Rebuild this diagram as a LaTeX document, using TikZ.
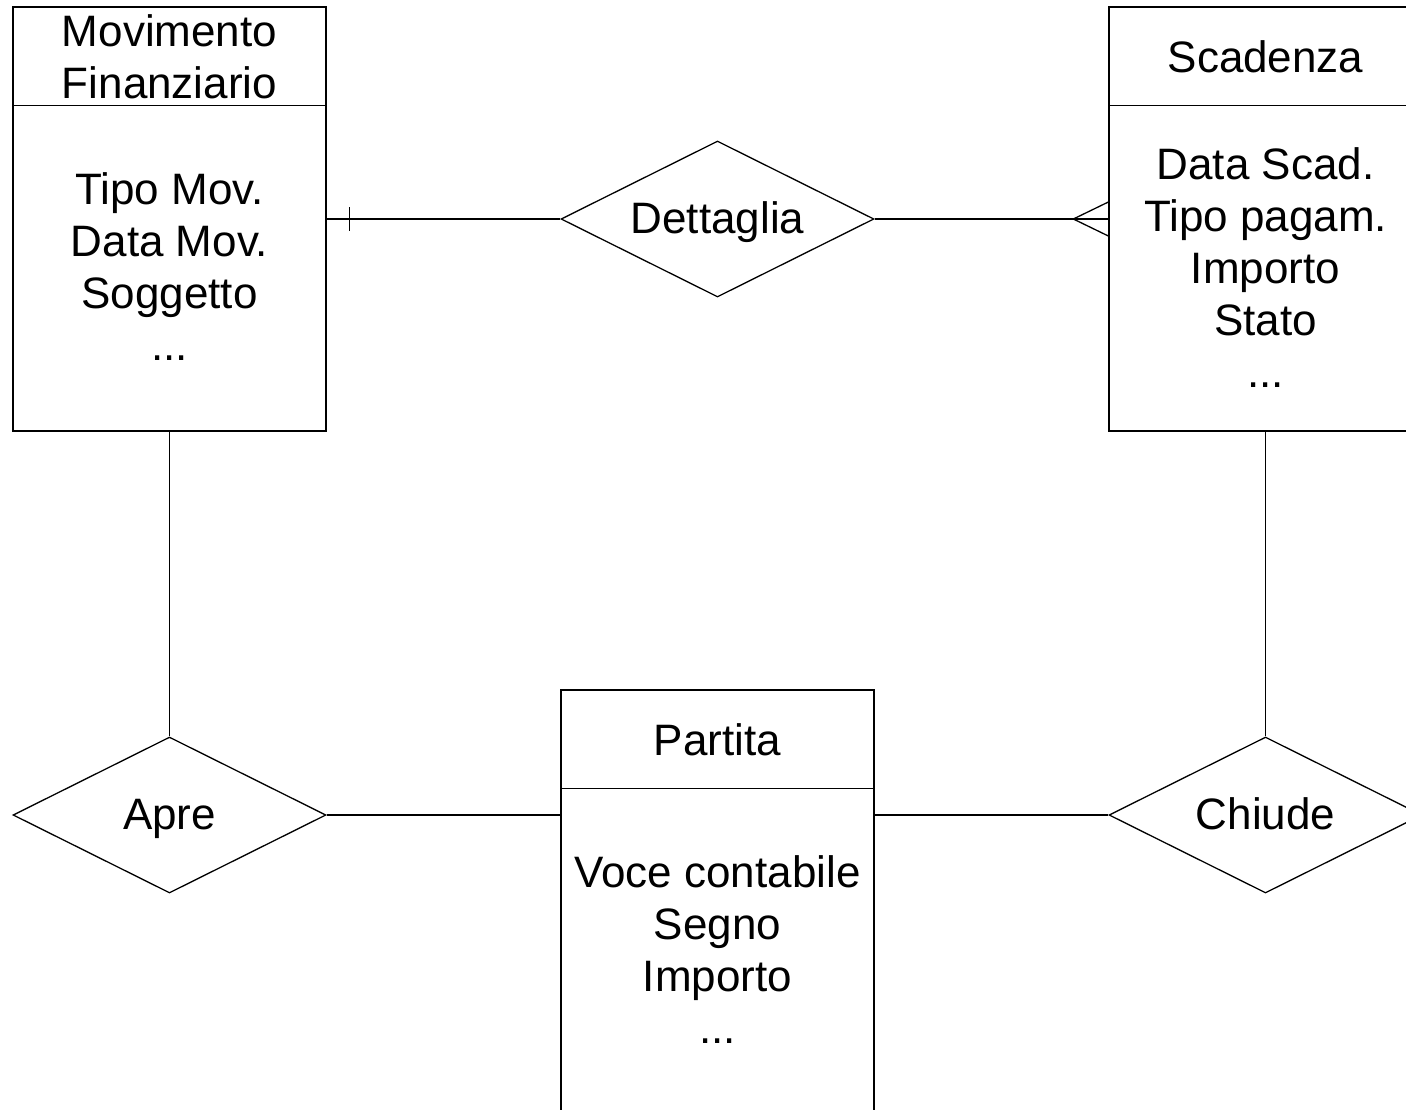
\documentclass[tikz,border=0pt]{standalone}
\usepackage{fontspec}
\setmainfont{Liberation Sans}
\usetikzlibrary{shapes.geometric}
\begin{document}
\begin{tikzpicture}[x=1pt,y=-1pt,
  line width=1.3pt,
  entity/.style={draw, rectangle, minimum width=313pt, minimum height=424pt, inner sep=0pt},
  rel/.style={draw, diamond, minimum width=313pt, minimum height=156pt, inner sep=0pt},
  % multi-line labels are placed by the baseline of their last line
  txt/.style={anchor=base, align=center, inner sep=0pt,
    font=\fontsize{44}{52}\selectfont}]
\useasboundingbox (0,0) rectangle (1406,1109);
\clip (0,0) rectangle (1406,1109);

% entities
\node[entity] (mf) at (169.5,219) {};
\node[entity] (sc) at (1265.5,219) {};
\node[entity] (pa) at (717.5,902) {};
\foreach \e in {mf,sc,pa}
  \draw ([yshift=-99pt]\e.north west) -- ([yshift=-99pt]\e.north east);

% relationships
\node[rel] (dett) at (717.5,219) {};
\node[rel] (apre) at (169.5,815) {};
\node[rel] (chiude) at (1265.5,815) {};

% labels
\node[txt] (mfhead) at (169.5,98) {Movimento\\Finanziario};
\node[txt] (mfbody) at (169.5,360) {Tipo Mov.\\Data Mov.\\Soggetto\\...};
\node[txt] (schead) at (1265.5,72) {Scadenza};
\node[txt] (scbody) at (1265.5,387) {Data Scad.\\Tipo pagam.\\Importo\\Stato\\...};
\node[txt] (pahead) at (717.5,755) {Partita};
\node[txt] (pabody) at (717.5,1043) {Voce contabile\\Segno\\Importo\\...};
\node[txt] (dettl) at (717.5,233) {Dettaglia};
\node[txt] (aprel) at (169.5,829) {Apre};
\node[txt] (chiudel) at (1265.5,829) {Chiude};

% connectors
\draw (mf.east) -- (dett.west);
\draw ([xshift=23pt,yshift=12pt]mf.east) -- ([xshift=23pt,yshift=-12pt]mf.east);
\draw (dett.east) -- (sc.west);
\coordinate (crow) at ([xshift=-35pt]sc.west);
\draw ([yshift=17pt]sc.west) -- (crow) -- ([yshift=-17pt]sc.west);
\draw (mf.south) -- (apre.north);
\draw (apre.east) -- (pa.west |- apre.east);
\draw (pa.east |- chiude.west) -- (chiude.west);
\draw (sc.south) -- (chiude.north);
\end{tikzpicture}
\end{document}
